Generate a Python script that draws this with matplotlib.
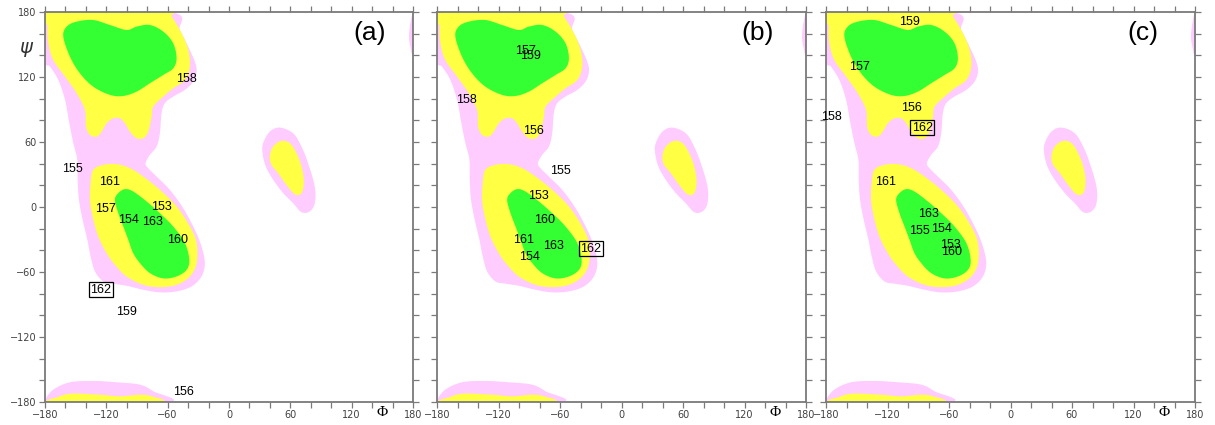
import numpy as np
import matplotlib
matplotlib.use("Agg")
import matplotlib.pyplot as plt
from matplotlib.patches import Polygon
from matplotlib.transforms import blended_transform_factory

# ---------------------------------------------------------------------------
# Ramachandran region outlines (phi, psi) in degrees
# ---------------------------------------------------------------------------
generous_main = [(-180, 180), (-57.8, 180), (-48.0, 163.4), (-39.9, 148.0), (-33.4, 134.2),
                 (-31.7, 125.0), (-35.0, 115.8), (-43.1, 108.1), (-54.6, 101.9), (-62.7, 95.8),
                 (-66.0, 86.5), (-67.6, 68.1), (-70.8, 55.8), (-77.4, 48.1), (-81.6, 40.4),
                 (-79.0, 35.8), (-70.8, 28.1), (-57.8, 15.8), (-44.8, -1.1), (-33.4, -21.0),
                 (-26.9, -36.4), (-23.6, -51.8), (-26.9, -64.1), (-36.6, -73.3), (-51.3, -77.9),
                 (-67.6, -78.8), (-83.9, -76.4), (-100.2, -72.7), (-113.2, -70.8), (-123.0, -68.7),
                 (-131.1, -59.5), (-135.4, -45.6), (-138.6, -30.3), (-143.2, -11.8), (-146.8, 6.6),
                 (-148.1, 25.1), (-148.4, 43.5), (-152.3, 58.9), (-156.2, 77.3), (-160.4, 98.8),
                 (-167.0, 117.3), (-175.1, 129.6), (-180, 135.7)]
generous_bottom = [(-180, -180), (-180, -177.8), (-171.9, -168.6), (-155.6, -161.8),
                   (-132.8, -160.6), (-109.9, -161.8), (-87.1, -164.0), (-74.1, -170.1),
                   (-59.4, -180)]
generous_left = [(33.4, 58.9), (39.9, 69.6), (49.7, 73.3), (62.7, 68.1), (70.9, 55.8),
                 (77.4, 40.4), (83.9, 18.9), (83.9, 3.5), (79.0, -4.1), (70.9, -4.8),
                 (62.7, 3.5), (53.0, 12.8), (43.2, 25.1), (36.0, 37.4), (32.8, 49.7)]
generous_edge = [(180, 177.2), (177.4, 169.5), (176.1, 157.3), (177.4, 148.0), (180, 140.3)]

allowed_beta = [(-175.1, 180), (-62.7, 180), (-56.2, 175.7), (-46.4, 160.3), (-39.9, 145.0),
                (-38.3, 129.6), (-43.1, 117.3), (-54.6, 109.6), (-64.3, 101.9), (-74.1, 92.7),
                (-75.7, 83.5), (-79.0, 69.6), (-83.9, 63.5), (-90.4, 63.5), (-96.9, 69.6),
                (-101.8, 77.3), (-106.7, 81.9), (-113.2, 81.9), (-119.7, 77.3), (-124.6, 69.6),
                (-129.5, 65.0), (-136.0, 66.6), (-139.9, 74.3), (-140.9, 89.6), (-149.0, 105.0),
                (-160.4, 120.4), (-171.9, 135.7), (-176.7, 151.1), (-177.4, 166.5)]
allowed_alpha = [(-132.8, 34.3), (-123.0, 38.9), (-109.9, 39.5), (-96.9, 35.8), (-83.9, 28.1),
                 (-67.6, 15.8), (-51.3, 0.5), (-38.3, -18.0), (-31.7, -33.3), (-31.7, -51.8),
                 (-38.3, -64.1), (-51.3, -71.8), (-67.6, -73.9), (-83.9, -71.8), (-100.2, -64.1),
                 (-111.6, -53.3), (-119.7, -42.6), (-127.9, -27.2), (-133.4, -8.7), (-136.0, 6.6),
                 (-135.4, 22.0)]
allowed_bottom = [(-171.9, -180), (-167.0, -175.4), (-153.9, -172.3), (-126.2, -173.3),
                  (-106.7, -174.8), (-87.1, -173.3), (-75.7, -174.8), (-69.2, -180)]
allowed_left = [(39.9, 46.6), (43.2, 55.8), (51.3, 61.0), (59.5, 58.9), (66.0, 49.7),
                (70.9, 37.4), (73.2, 23.5), (70.9, 12.8), (64.4, 11.8), (56.2, 20.5),
                (48.1, 31.2), (41.6, 38.9)]

core_beta = [(-162.1, 157.3), (-158.8, 166.5), (-149.0, 171.1), (-132.8, 172.6), (-116.5, 168.0),
             (-100.2, 163.4), (-90.4, 166.5), (-77.4, 168.0), (-64.3, 161.9), (-54.6, 151.1),
             (-51.3, 137.3), (-54.6, 128.0), (-64.3, 121.9), (-77.4, 114.2), (-90.4, 106.5),
             (-103.4, 102.5), (-116.5, 103.5), (-132.8, 111.1), (-145.8, 123.4), (-155.6, 138.8)]
core_alpha = [(-111.6, 6.6), (-108.3, 12.8), (-101.8, 16.5), (-93.7, 14.3), (-80.6, 5.1),
              (-67.6, -5.7), (-54.6, -18.0), (-43.1, -33.3), (-38.9, -48.7), (-41.5, -58.0),
              (-51.3, -64.1), (-64.3, -65.9), (-77.4, -61.0), (-87.1, -51.8), (-93.7, -42.6),
              (-98.5, -30.3), (-103.4, -18.0), (-108.3, -5.7)]

# ---------------------------------------------------------------------------
# Residue labels: number, phi, psi (boxed residue is highlighted)
# ---------------------------------------------------------------------------
res_a = ["153", "154", "155", "156", "157", "158", "159", "160", "161", "162", "163"]
phi_a = [-66.0, -98.2, -153.0, -44.8, -120.7, -41.5, -100.2, -50.3, -116.5, -125.6, -74.8]
psi_a = [-0.4, -11.8, 35.2, -170.4, -1.7, 118.2, -97.3, -30.9, 23.2, -76.4, -13.4]

res_b = ["153", "154", "155", "156", "157", "158", "159", "160", "161", "162", "163"]
phi_b = [-80.6, -89.7, -59.8, -85.8, -93.3, -151.7, -89.0, -75.1, -95.5, -29.9, -66.0]
psi_b = [9.7, -46.3, 32.8, 70.3, 144.3, 98.8, 139.4, -11.8, -30.3, -38.6, -35.8]

res_c = ["153", "154", "155", "156", "157", "158", "159", "160", "161", "162", "163"]
phi_c = [-58.8, -66.9, -88.4, -96.8, -147.2, -175.1, -98.8, -57.2, -121.5, -86.1, -79.6]
psi_c = [-34.9, -20.7, -22.6, 91.2, 129.6, 83.5, 171.1, -41.6, 22.9, 73.0, -6.3]

boxed_residue = "162"
panel_tags = ["(a)", "(b)", "(c)"]
tag_x = [0.883, 0.869, 0.860]

major_ticks = [-180, -120, -60, 0, 60, 120, 180]
minor_ticks = list(range(-180, 181, 20))
tick_text = [str(v).replace("-", "\u2212") for v in major_ticks]

PINK = "#ffccff"
YELLOW = "#ffff44"
GREEN = "#33ff33"
SPINE = "#7a7a7a"


def smooth_closed(pts, n=12):
    """Closed Catmull-Rom curve through the outline vertices."""
    p = np.asarray(pts, dtype=float)
    m = len(p)
    out = []
    t = np.linspace(0, 1, n, endpoint=False)[:, None]
    for i in range(m):
        p0, p1, p2, p3 = p[i - 1], p[i], p[(i + 1) % m], p[(i + 2) % m]
        seg = 0.5 * ((2 * p1) + (-p0 + p2) * t + (2 * p0 - 5 * p1 + 4 * p2 - p3) * t ** 2
                     + (-p0 + 3 * p1 - 3 * p2 + p3) * t ** 3)
        out.append(seg)
    return np.vstack(out)


def region(ax, pts, color):
    ax.add_patch(Polygon(smooth_closed(pts), closed=True, facecolor=color,
                         edgecolor="none", zorder=1))


plt.rcParams["font.family"] = ["Liberation Sans", "DejaVu Sans"]

fig = plt.figure(figsize=(12.15, 4.25), dpi=100)
W, H = 1215.0, 425.0
lefts = [45, 437, 826]
widths = [368, 369, 369]
bottom_px, top_px = 402, 12

panels = [(res_a, phi_a, psi_a), (res_b, phi_b, psi_b), (res_c, phi_c, psi_c)]

for k, (labels, phis, psis) in enumerate(panels):
    ax = fig.add_axes([lefts[k] / W, (H - bottom_px) / H, widths[k] / W, (bottom_px - top_px) / H])
    ax.set_xlim(-180, 180)
    ax.set_ylim(-180, 180)

    # Generous (outer) regions
    for shape in (generous_main, generous_left, generous_bottom, generous_edge):
        region(ax, shape, PINK)
    # Allowed regions
    for shape in (allowed_beta, allowed_alpha, allowed_left, allowed_bottom):
        region(ax, shape, YELLOW)
    # Core regions
    for shape in (core_beta, core_alpha):
        region(ax, shape, GREEN)

    # Residue labels
    for lab, ph, ps in zip(labels, phis, psis):
        kw = dict(ha="center", va="center", fontsize=9, color="black", zorder=5, clip_on=False)
        if lab == boxed_residue:
            kw["bbox"] = dict(boxstyle="square,pad=0.12", facecolor="none",
                              edgecolor="black", linewidth=0.9)
        ax.text(ph, ps, lab, **kw)

    # Axes styling
    for sp in ax.spines.values():
        sp.set_color(SPINE)
        sp.set_linewidth(1.3)
    ax.set_xticks(major_ticks)
    ax.set_yticks(major_ticks)
    ax.set_xticks(minor_ticks, minor=True)
    ax.set_yticks(minor_ticks, minor=True)
    ax.tick_params(which="both", direction="out", length=4.0, width=0.9, color=SPINE,
                   top=True, right=True, pad=2)
    ax.set_xticklabels(tick_text, fontsize=7, color="#404040", family="DejaVu Sans")
    if k == 0:
        ax.set_yticklabels(tick_text, fontsize=7, color="#404040", family="DejaVu Sans")
    else:
        ax.tick_params(axis="y", labelleft=False)

    # Axis symbols and panel tag
    tr = blended_transform_factory(ax.transData, ax.transAxes)
    ax.text(150, -0.027, "Φ", transform=tr, ha="center", va="center", fontsize=11,
            family=["Liberation Serif", "DejaVu Serif"], clip_on=False)
    if k == 0:
        ax.text(-0.049, 0.905, r"$\psi$", transform=ax.transAxes, ha="center", va="center",
                fontsize=14, color="#333333")
    ax.text(tag_x[k], 0.946, panel_tags[k], transform=ax.transAxes, ha="center",
            va="center", fontsize=19)

fig.savefig("out.png", dpi=100)
